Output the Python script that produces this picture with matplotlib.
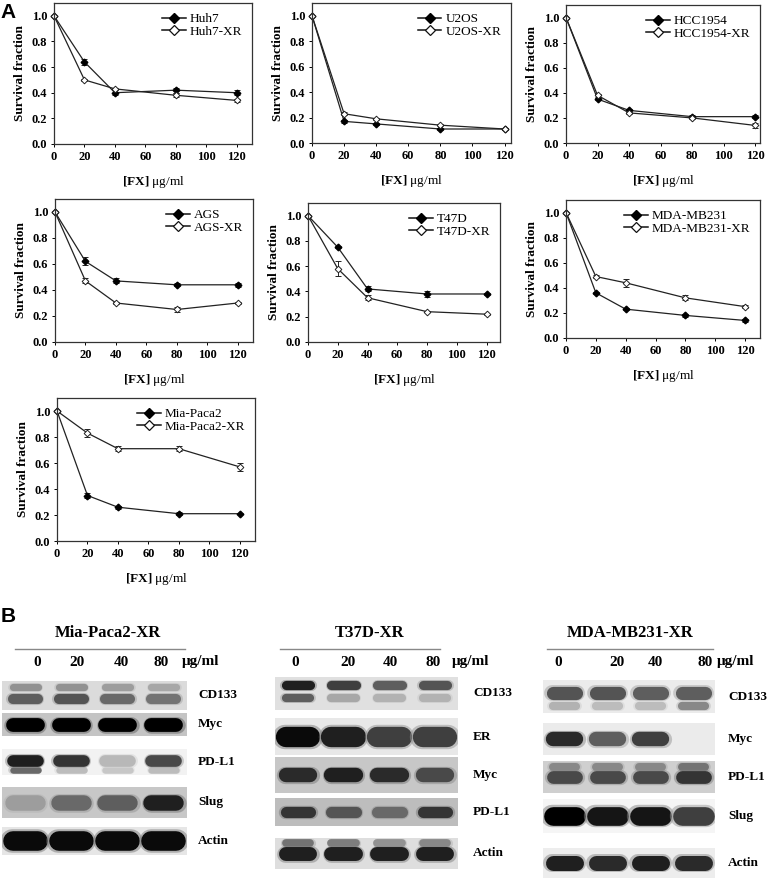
import matplotlib
matplotlib.use("Agg")
import matplotlib.pyplot as plt
from matplotlib.ticker import FormatStrFormatter
from matplotlib.lines import Line2D

plt.rcParams['font.family'] = ['Liberation Serif', 'DejaVu Serif']
plt.rcParams['mathtext.fontset'] = 'custom'
plt.rcParams['mathtext.rm'] = 'Liberation Serif'
plt.rcParams['mathtext.bf'] = 'Liberation Serif:bold'

# ---- survival data (panel A) ----
doses = [0, 20, 40, 80, 120]

huh7 = [1.0, 0.64, 0.40, 0.42, 0.40]
huh7_err = [0, 0.02, 0.02, 0.02, 0.02]
huh7_xr = [1.0, 0.50, 0.43, 0.38, 0.34]
huh7_xr_err = [0, 0.01, 0.01, 0.015, 0.01]

u2os = [1.0, 0.17, 0.15, 0.11, 0.11]
u2os_err = [0, 0.01, 0.01, 0.01, 0.005]
u2os_xr = [1.0, 0.23, 0.19, 0.14, 0.11]
u2os_xr_err = [0, 0.01, 0.01, 0.01, 0.005]

hcc1954 = [1.0, 0.35, 0.26, 0.21, 0.21]
hcc1954_err = [0, 0.01, 0.01, 0.01, 0.01]
hcc1954_xr = [1.0, 0.38, 0.24, 0.20, 0.14]
hcc1954_xr_err = [0, 0.01, 0.01, 0.01, 0.02]

ags = [1.0, 0.62, 0.47, 0.44, 0.44]
ags_err = [0, 0.03, 0.02, 0.01, 0.015]
ags_xr = [1.0, 0.47, 0.30, 0.25, 0.30]
ags_xr_err = [0, 0.02, 0.01, 0.02, 0.01]

t47d = [1.0, 0.75, 0.42, 0.38, 0.38]
t47d_err = [0, 0.01, 0.02, 0.02, 0.01]
t47d_xr = [1.0, 0.58, 0.35, 0.24, 0.22]
t47d_xr_err = [0, 0.06, 0.02, 0.005, 0.005]

mda = [1.0, 0.36, 0.23, 0.18, 0.14]
mda_err = [0, 0.01, 0.01, 0.015, 0.01]
mda_xr = [1.0, 0.49, 0.44, 0.32, 0.25]
mda_xr_err = [0, 0.01, 0.03, 0.02, 0.01]

mia = [1.0, 0.35, 0.26, 0.21, 0.21]
mia_err = [0, 0.02, 0.01, 0.01, 0.005]
mia_xr = [1.0, 0.83, 0.71, 0.71, 0.57]
mia_xr_err = [0, 0.03, 0.02, 0.02, 0.03]

# ---- western blot band intensities (panel B), 0 = none, 1 = black ----
blot_doses = ['0', '20', '40', '80']

mia_proteins = ['CD133', 'Myc', 'PD-L1', 'Slug', 'Actin']
mia_bands = [[0.55, 0.60, 0.50, 0.45],
             [1.00, 1.00, 1.00, 1.00],
             [0.85, 0.75, 0.12, 0.65],
             [0.25, 0.50, 0.55, 0.85],
             [0.95, 0.95, 0.95, 0.95]]
mia_extra = [[0.30, 0.30, 0.25, 0.20], None, [0.5, 0.1, 0.05, 0.1], None, None]

t37d_proteins = ['CD133', 'ER', 'Myc', 'PD-L1', 'Actin']
t37d_bands = [[0.85, 0.70, 0.55, 0.60],
              [0.95, 0.85, 0.70, 0.70],
              [0.80, 0.85, 0.80, 0.65],
              [0.75, 0.60, 0.50, 0.75],
              [0.85, 0.85, 0.85, 0.85]]
t37d_extra = [[0.55, 0.20, 0.15, 0.15], None, None, None, [0.45, 0.40, 0.30, 0.35]]

mda_proteins = ['CD133', 'Myc', 'PD-L1', 'Slug', 'Actin']
mda_bands = [[0.60, 0.60, 0.55, 0.55],
             [0.80, 0.55, 0.70, 0.00],
             [0.65, 0.65, 0.65, 0.75],
             [1.00, 0.90, 0.90, 0.70],
             [0.85, 0.80, 0.85, 0.80]]
mda_extra = [[0.15, 0.10, 0.10, 0.35], None, [0.35, 0.35, 0.35, 0.45], None, None]

W, H = 775, 881
fig = plt.figure(figsize=(W / 100, H / 100), dpi=100)


def px_axes(l, t, r, b):
    return fig.add_axes([l / W, 1 - b / H, (r - l) / W, (b - t) / H])


def survival(box, xmax, name, y1, e1, y2, e2):
    ax = px_axes(*box)
    ax.errorbar(doses, y1, yerr=e1, color='#222222', marker='D', ms=3.4, mfc='black', mec='black',
                lw=0.9, elinewidth=0.7, capsize=2, capthick=0.7, clip_on=False)
    ax.errorbar(doses, y2, yerr=e2, color='#222222', marker='D', ms=3.4, mfc='white', mec='#222222',
                mew=0.7, lw=0.9, elinewidth=0.7, capsize=2, capthick=0.7, clip_on=False)
    handles = [Line2D([], [], color='#111111', lw=1.1, marker='D', ms=5.5, mfc='black', mec='black'),
               Line2D([], [], color='#111111', lw=1.1, marker='D', ms=5.5, mfc='white', mec='#111111',
                      mew=0.9)]
    ax.set_xlim(0, xmax)
    ax.set_ylim(0, 1.1)
    ax.set_xticks([0, 20, 40, 60, 80, 100, 120])
    ax.set_yticks([0, 0.2, 0.4, 0.6, 0.8, 1.0])
    ax.yaxis.set_major_formatter(FormatStrFormatter('%.1f'))
    ax.tick_params(length=2, width=0.7, pad=3, labelsize=9)
    for lab in ax.get_xticklabels() + ax.get_yticklabels():
        lab.set_fontweight('bold')
    for s in ax.spines.values():
        s.set_linewidth(0.9)
        s.set_color('#333333')
    ax.set_ylabel('Survival fraction', fontsize=9.5, fontweight='bold', labelpad=4)
    ax.set_xlabel(r'$\mathbf{[FX]}$ μg/ml', fontsize=9.5, labelpad=8)
    ax.legend(handles, [name, name + '-XR'], loc='upper right', frameon=False, fontsize=9.5,
              handlelength=1.8, handletextpad=0.3, labelspacing=0.05, borderaxespad=0.35)
    return ax


survival((54, 3, 252, 144), 130, 'Huh7', huh7, huh7_err, huh7_xr, huh7_xr_err)
survival((312, 3, 511, 143), 124, 'U2OS', u2os, u2os_err, u2os_xr, u2os_xr_err)
survival((566, 5, 760, 143), 123, 'HCC1954', hcc1954, hcc1954_err, hcc1954_xr, hcc1954_xr_err)
survival((55, 199, 253, 342), 130, 'AGS', ags, ags_err, ags_xr, ags_xr_err)
survival((308, 203, 500, 342), 129, 'T47D', t47d, t47d_err, t47d_xr, t47d_xr_err)
survival((566, 200, 760, 338), 130, 'MDA-MB231', mda, mda_err, mda_xr, mda_xr_err)
survival((57, 398, 255, 541), 130, 'Mia-Paca2', mia, mia_err, mia_xr, mia_xr_err)

fig.text(8 / W, 1 - 12 / H, 'A', family='Liberation Sans', fontweight='bold', fontsize=15,
         ha='center', va='center')
fig.text(8 / W, 1 - 617 / H, 'B', family='Liberation Sans', fontweight='bold', fontsize=15,
         ha='center', va='center')


def band(ax, x, y, inten, thick_px, bg):
    if inten < 0.03:
        return
    g = 0.82 * (1 - inten)
    mid = (g + bg) / 2
    ax.plot([x - 0.28, x + 0.28], [y, y], color=str(mid), alpha=0.5,
            lw=thick_px * 1.2 * 0.72, solid_capstyle='round')
    ax.plot([x - 0.27, x + 0.27], [y, y], color=str(g), lw=thick_px * 0.72, solid_capstyle='round')


def blot(x0, x1, rows, proteins, bands, extra, bgs, thick, ycen, extra_y, label_x):
    for i, (t, b) in enumerate(rows):
        ax = px_axes(x0, t, x1, b)
        ax.set_xlim(-0.5, 3.5)
        ax.set_ylim(0, 1)
        ax.set_facecolor(str(bgs[i]))
        ax.set_xticks([])
        ax.set_yticks([])
        for s in ax.spines.values():
            s.set_visible(False)
        h = b - t
        if extra[i] is not None:
            for lane, v in enumerate(extra[i]):
                band(ax, lane, extra_y[i], v, h * 0.25, bgs[i])
        for lane, v in enumerate(bands[i]):
            band(ax, lane, ycen[i], v, h * thick[i], bgs[i])
        fig.text(label_x / W, 1 - (t + b) / 2 / H, proteins[i], fontsize=9.5, fontweight='bold',
                 ha='left', va='center')


def blot_header(title, cx, line_x0, line_x1, lane_x, unit_x):
    fig.text(cx / W, 1 - 633 / H, title, fontsize=12, fontweight='bold', ha='center', va='center')
    fig.add_artist(Line2D([line_x0 / W, line_x1 / W], [1 - 649 / H, 1 - 649 / H],
                          color='#888888', lw=1))
    for d, lx in zip(blot_doses, lane_x):
        fig.text(lx / W, 1 - 662 / H, d, fontsize=11, fontweight='bold', ha='center', va='center')
    fig.text(unit_x / W, 1 - 662 / H, 'μg/ml', fontsize=11, fontweight='bold', ha='left', va='center')


blot_header('Mia-Paca2-XR', 108, 15, 185, [37, 77, 121, 161], 182)
blot(2, 187, [(681, 710), (713, 736), (749, 775), (787, 818), (827, 855)],
     mia_proteins, mia_bands, mia_extra,
     [0.86, 0.77, 0.95, 0.78, 0.9],
     [0.35, 0.6, 0.45, 0.5, 0.7], [0.38, 0.5, 0.55, 0.5, 0.5], [0.78, 0, 0.2, 0, 0], 198)

blot_header('T37D-XR', 370, 280, 440, [295, 348, 390, 433], 452)
blot(275, 458, [(677, 710), (718, 755), (757, 793), (798, 826), (838, 869)],
     t37d_proteins, t37d_bands, t37d_extra,
     [0.88, 0.91, 0.78, 0.74, 0.87],
     [0.28, 0.55, 0.4, 0.4, 0.45], [0.75, 0.5, 0.5, 0.5, 0.5], [0.35, 0, 0, 0, 0.85], 473)

blot_header('MDA-MB231-XR', 630, 547, 713, [558, 617, 655, 705], 717)
blot(543, 715, [(680, 713), (723, 755), (761, 793), (799, 833), (848, 878)],
     mda_proteins, mda_bands, mda_extra,
     [0.92, 0.92, 0.81, 0.96, 0.93],
     [0.4, 0.45, 0.4, 0.55, 0.5], [0.6, 0.5, 0.5, 0.5, 0.5], [0.2, 0, 0.8, 0, 0], 728)

fig.savefig('out.png', dpi=100)
